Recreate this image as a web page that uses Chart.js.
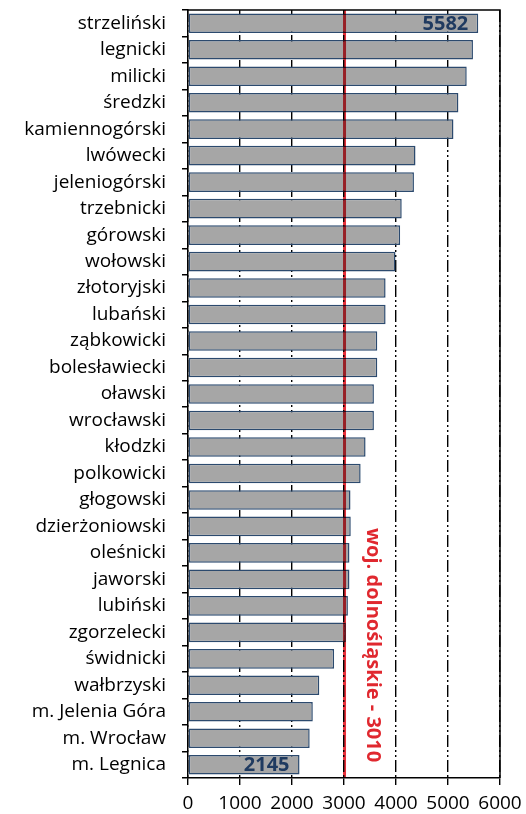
<!DOCTYPE html>
<html>
<head>
<meta charset="utf-8">
<script src="https://cdn.jsdelivr.net/npm/chart.js@4"></script>
<style>
  html, body { margin: 0; padding: 0; background: #fff; }
  #wrap { width: 526px; height: 814px; }
</style>
</head>
<body>
<div id="wrap"><canvas id="wykres"></canvas></div>
<script>
// powiaty (od najwyższej wartości)
const powiaty = [
    "strzeliński", "legnicki", "milicki", "średzki", "kamiennogórski",
    "lwówecki", "jeleniogórski", "trzebnicki", "górowski", "wołowski",
    "złotoryjski", "lubański", "ząbkowicki", "bolesławiecki", "oławski",
    "wrocławski", "kłodzki", "polkowicki", "głogowski", "dzierżoniowski",
    "oleśnicki", "jaworski", "lubiński", "zgorzelecki", "świdnicki",
    "wałbrzyski", "m. Jelenia Góra", "m. Wrocław", "m. Legnica"
];
const wartosci = [
    5582, 5480, 5360, 5200, 5105,
    4375, 4345, 4110, 4080, 3990,
    3800, 3800, 3640, 3640, 3575,
    3575, 3415, 3320, 3125, 3130,
    3105, 3105, 3075, 3035, 2810,
    2525, 2400, 2340, 2145
];
const ticksX = [0, 1000, 2000, 3000, 4000, 5000, 6000];
const sredniaWoj = 3010;
const opisSredniej = "woj. dolnośląskie - " + sredniaWoj;

const FONT = "'Open Sans'";

// linia średniej, opisy i ramka obszaru wykresu
const dodatki = {
    id: "dodatki",
    afterDatasetsDraw(chart) {
        const ctx = chart.ctx;
        const area = chart.chartArea;
        const x = chart.scales.x;
        const meta = chart.getDatasetMeta(0);

        // ramka
        ctx.save();
        ctx.strokeStyle = "#000";
        ctx.lineWidth = 1.5;
        ctx.beginPath();
        ctx.moveTo(area.left, area.top);
        ctx.lineTo(area.right, area.top);
        ctx.lineTo(area.right, area.bottom);
        ctx.stroke();
        ctx.restore();

        // wartości pierwszego i ostatniego słupka
        ctx.save();
        ctx.fillStyle = "#1f3a60";
        ctx.font = "bold 20px " + FONT;
        ctx.textAlign = "right";
        ctx.textBaseline = "middle";
        [0, wartosci.length - 1].forEach(i => {
            const el = meta.data[i];
            ctx.fillText(String(wartosci[i]), el.x - 10, el.y + 1);
        });
        ctx.restore();

        // linia średniej
        const px = x.getPixelForValue(sredniaWoj);
        ctx.save();
        ctx.globalCompositeOperation = "multiply";
        ctx.strokeStyle = "#e8303a";
        ctx.lineWidth = 3;
        ctx.beginPath();
        ctx.moveTo(px, area.top);
        ctx.lineTo(px, area.bottom);
        ctx.stroke();
        ctx.restore();

        // opis pionowy
        ctx.save();
        ctx.fillStyle = "#e0282f";
        ctx.font = "bold 20px " + FONT;
        ctx.translate(px + 28, 528);
        ctx.rotate(Math.PI / 2);
        ctx.textAlign = "left";
        ctx.textBaseline = "middle";
        ctx.fillText(opisSredniej, 0, 0);
        ctx.restore();
    }
};

new Chart(document.getElementById("wykres"), {
    type: "bar",
    data: {
        labels: powiaty,
        datasets: [{
            data: wartosci,
            backgroundColor: "#a6a6a6",
            borderColor: "#2c4a6e",
            borderWidth: 1.5,
            borderSkipped: false,
            barPercentage: 1,
            categoryPercentage: 0.74
        }]
    },
    plugins: [dodatki],
    options: {
        indexAxis: "y",
        responsive: true,
        maintainAspectRatio: false,
        animation: false,
        layout: { padding: { top: 10, right: 26, left: 0, bottom: 0 } },
        plugins: {
            legend: { display: false },
            tooltip: { enabled: false }
        },
        scales: {
            x: {
                min: 0,
                max: 6000,
                afterBuildTicks: s => { s.ticks = ticksX.map(v => ({ value: v })); },
                afterFit: s => { s.height = 36; s.paddingLeft = 0; s.paddingRight = 0; },
                ticks: {
                    color: "#000",
                    font: { family: FONT, size: 19 },
                    padding: 7,
                    maxRotation: 0,
                    callback: v => String(v)
                },
                grid: {
                    color: "#000",
                    lineWidth: 1.4,
                    tickLength: 7,
                    tickBorderDash: []
                },
                border: { display: true, color: "#000", width: 1.5, dash: [12, 3, 2, 3, 2, 3] }
            },
            y: {
                afterFit: s => { s.width = 188; s.paddingTop = 0; s.paddingBottom = 0; },
                ticks: {
                    color: "#000",
                    font: { family: FONT, size: 19 },
                    padding: 16,
                    autoSkip: false
                },
                grid: {
                    drawOnChartArea: false,
                    color: "#000",
                    lineWidth: 1.5,
                    tickLength: 6
                },
                border: { display: true, color: "#000", width: 1.5 }
            }
        }
    }
});
</script>
</body>
</html>
